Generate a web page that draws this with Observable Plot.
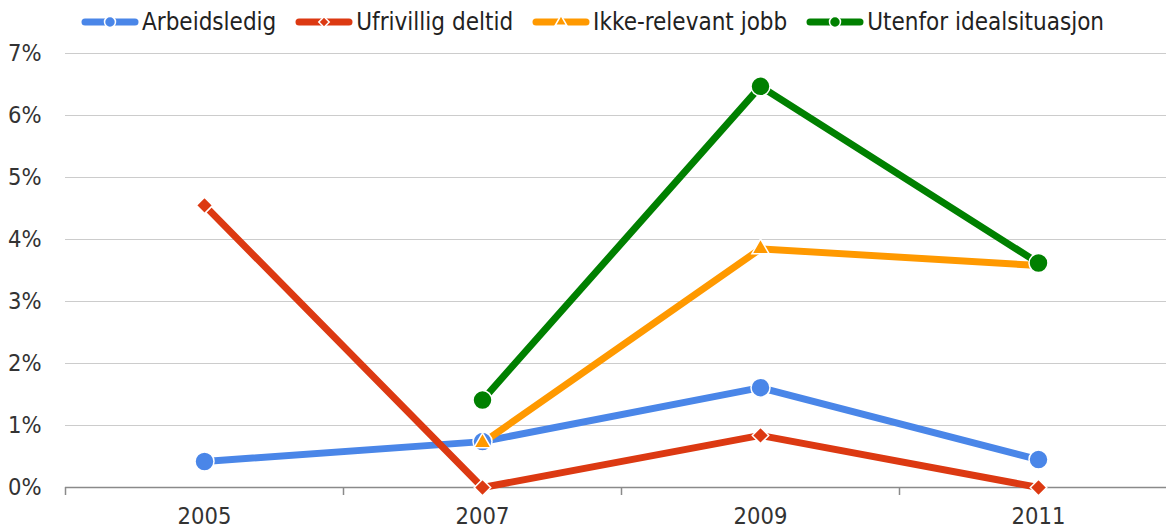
<!DOCTYPE html>
<html>
<head>
<meta charset="utf-8">
<script src="https://cdn.jsdelivr.net/npm/d3@7"></script>
<script src="https://cdn.jsdelivr.net/npm/@observablehq/plot@0.6"></script>
<style>
  body { margin: 0; background: #fff; font-family: "DejaVu Sans Condensed", "DejaVu Sans", sans-serif; font-stretch: condensed; }
  #legend { display: flex; align-items: center; height: 40px; padding-left: 80px; padding-top: 3px; box-sizing: border-box; color: #222; font-size: 24px; }
  #legend .item { display: flex; align-items: center; margin-right: 18px; }
  #legend svg { display: block; margin-right: 2px; }
  #chart svg { display: block; }
</style>
</head>
<body>
<div id="legend"></div>
<div id="chart"></div>
<script>
// Share of graduates in each situation, by survey year (percent)
const years = [2005, 2007, 2009, 2011];
const seriesNames = ["Arbeidsledig", "Ufrivillig deltid", "Ikke-relevant jobb", "Utenfor idealsituasjon"];
const arbeidsledig = [0.42, 0.74, 1.61, 0.45];
const ufrivilligDeltid = [4.55, 0, 0.84, 0];
const ikkeRelevantJobb = [null, 0.72, 3.85, 3.58];
const utenforIdealsituasjon = [null, 1.41, 6.47, 3.62];
const yTicks = [0, 1, 2, 3, 4, 5, 6, 7];
const seriesColors = ["#4a86e8", "#dc3912", "#ff9900", "#008000"];
const seriesSymbols = ["circle", "diamond2", "triangle2", "circle"];

const seriesValues = [arbeidsledig, ufrivilligDeltid, ikkeRelevantJobb, utenforIdealsituasjon];
const rows = seriesNames.flatMap((name, i) =>
  years.map((year, j) => ({series: name, year, value: seriesValues[i][j]}))
       .filter(d => d.value != null));

// category boundaries sit halfway between survey years
const boundaries = [2004, 2006, 2008, 2010];
const markerRadius = {circle: 9.5, diamond2: 7.4, triangle2: 8.2};

const width = 1166, height = 490;
const marginLeft = 65, marginRight = 0;
const xMax = 2004 + (width - marginLeft) / 139;
const fontFamily = "'DejaVu Sans Condensed', 'DejaVu Sans', sans-serif";

const lineMarks = seriesNames.map((name, i) =>
  Plot.line(rows.filter(d => d.series === name), {
    x: "year", y: "value", stroke: seriesColors[i], strokeWidth: 7,
    strokeLinejoin: "round", strokeLinecap: "butt"
  }));
const dotMarks = seriesNames.map((name, i) =>
  Plot.dot(rows.filter(d => d.series === name), {
    x: "year", y: "value", symbol: seriesSymbols[i], r: markerRadius[seriesSymbols[i]],
    fill: seriesColors[i], stroke: "white", strokeWidth: 1.5
  }));

const chart = Plot.plot({
  width, height,
  marginLeft, marginRight, marginTop: 13, marginBottom: 43,
  style: {fontFamily, fontSize: "23.5px", fontStretch: "condensed", color: "#333", background: "white"},
  x: {domain: [2004, xMax]},
  y: {domain: [0, 7]},
  marks: [
    Plot.gridY(yTicks.filter(t => t > 0), {stroke: "#cccccc", strokeOpacity: 1, strokeWidth: 1.2}),
    Plot.axisY(yTicks, {tickSize: 0, tickPadding: 24, tickFormat: d => d + "%", fill: "#333", fontSize: 23.5, label: null}),
    Plot.ruleY([0], {stroke: "#8a8a8a", strokeWidth: 1.5}),
    Plot.axisX(boundaries, {tickSize: 8, tickFormat: () => "", stroke: "#8a8a8a", strokeWidth: 1.5, label: null}),
    Plot.axisX(years, {tickSize: 0, tickPadding: 20, tickFormat: d => String(d), fill: "#333", fontSize: 23.5, label: null}),
    ...lineMarks,
    ...dotMarks
  ]
});
document.getElementById("chart").appendChild(chart);

// legend: a short line with the series marker in the middle, then the name
const legend = d3.select("#legend");
seriesNames.forEach((name, i) => {
  const item = legend.append("div").attr("class", "item");
  const sw = item.append("svg").attr("width", 60).attr("height", 20);
  sw.append("line").attr("x1", 5).attr("x2", 55).attr("y1", 10).attr("y2", 10)
    .attr("stroke", seriesColors[i]).attr("stroke-width", 7).attr("stroke-linecap", "round");
  const sym = {circle: d3.symbolCircle, diamond2: d3.symbolDiamond2, triangle2: d3.symbolTriangle2}[seriesSymbols[i]];
  const size = {circle: Math.PI * 30, diamond2: Math.PI * 22, triangle2: Math.PI * 30}[seriesSymbols[i]];
  sw.append("path").attr("transform", "translate(30,10)")
    .attr("d", d3.symbol(sym, size)())
    .attr("fill", seriesColors[i]).attr("stroke", "white").attr("stroke-width", 1.5);
  item.append("span").text(name);
});
</script>
</body>
</html>
